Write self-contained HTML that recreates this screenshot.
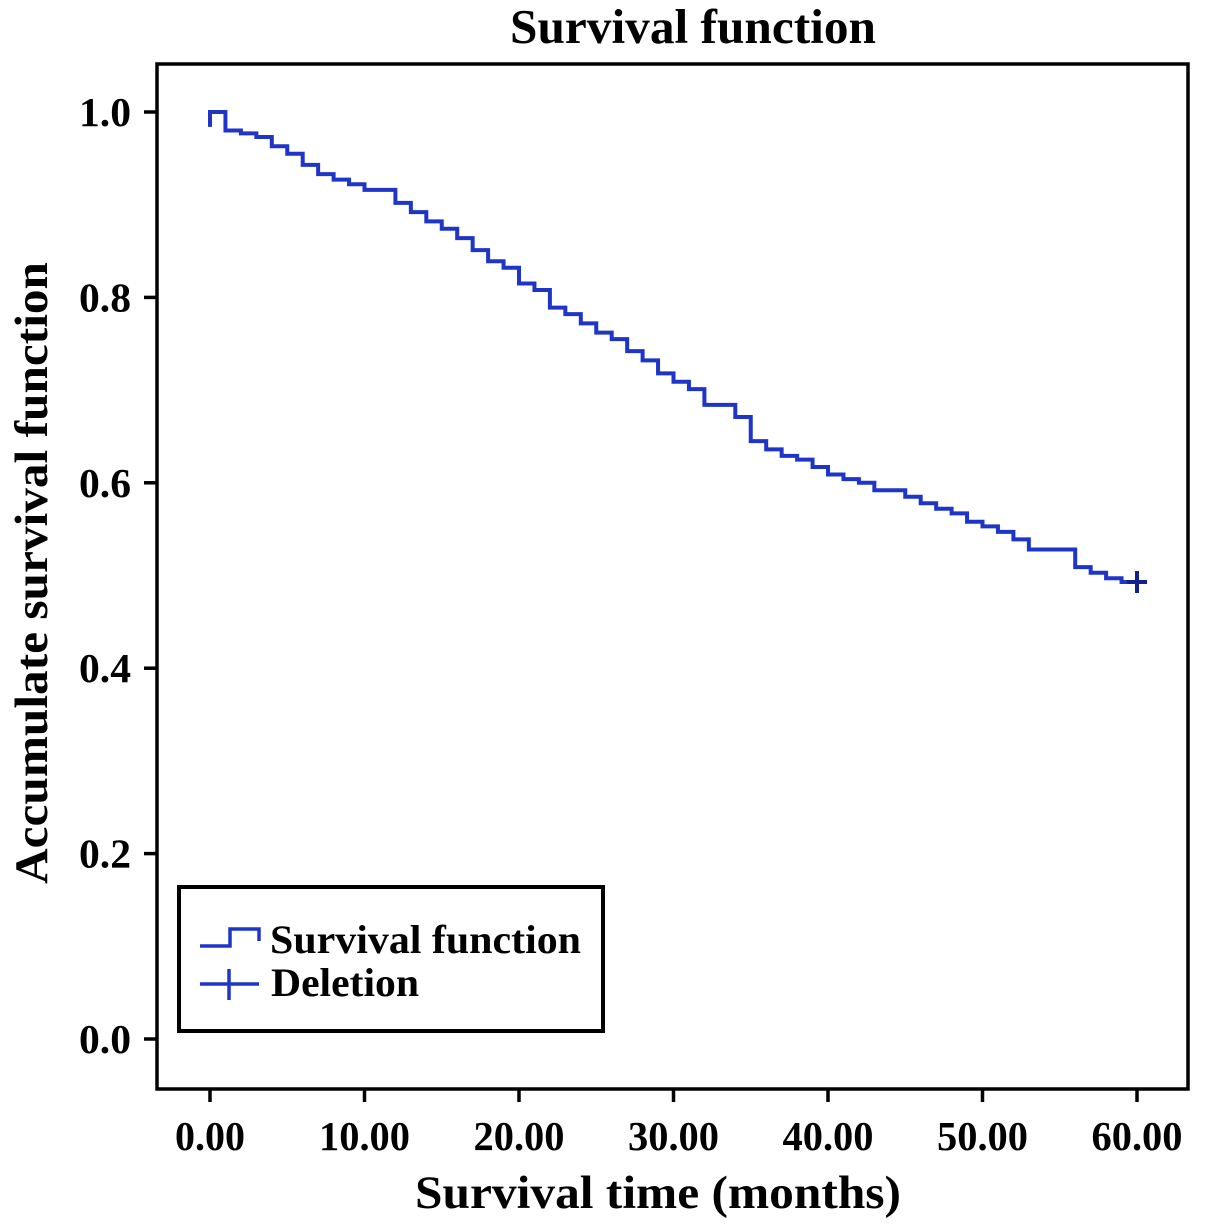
<!DOCTYPE html>
<html><head><meta charset="utf-8"><style>
html,body{margin:0;padding:0;background:#fff;}
svg{display:block;font-family:"Liberation Serif",serif;font-weight:bold;}
</style></head><body>
<svg width="1205" height="1228" viewBox="0 0 1205 1228">
<text x="693" y="43" font-size="49" text-anchor="middle" textLength="366" lengthAdjust="spacingAndGlyphs">Survival function</text>
<rect x="157" y="64" width="1031" height="1025" fill="none" stroke="#000" stroke-width="3.5"/>
<g id="yaxis"></g>
<g id="xaxis"></g>
<text transform="translate(47,573) rotate(-90)" font-size="47" text-anchor="middle" textLength="622" lengthAdjust="spacingAndGlyphs">Accumulate survival function</text>
<text x="658" y="1208" font-size="47" text-anchor="middle" textLength="486" lengthAdjust="spacingAndGlyphs">Survival time (months)</text>
<g id="series"></g>
<g>
<rect x="179" y="887" width="424" height="144" fill="#fff" stroke="#000" stroke-width="4"/>
<path d="M200 946 H230 V929 H259 V941" fill="none" stroke="#1f35c8" stroke-width="3.5"/>
<text x="270" y="953" font-size="40" textLength="311" lengthAdjust="spacingAndGlyphs">Survival function</text>
<path d="M200 984 H259 M229 969 V1000" fill="none" stroke="#1f35c8" stroke-width="3.5"/>
<text x="271" y="996" font-size="40" textLength="148" lengthAdjust="spacingAndGlyphs">Deletion</text>
</g>
</svg>
<script>
const yTicks=[0.0,0.2,0.4,0.6,0.8,1.0];
const yTickLabels=["0.0","0.2","0.4","0.6","0.8","1.0"];
const xTicks=[0,10,20,30,40,50,60];
const xTickLabels=["0.00","10.00","20.00","30.00","40.00","50.00","60.00"];
const stepTimes=[0,1,2,3,4,5,6,7,8,9,10,12,13,14,15,16,17,18,19,20,21,22,23,24,25,26,27,28,29,30,31,32,34,35,36,37,38,39,40,41,42,43,45,46,47,48,49,50,51,52,53,56,57,58,59];
const stepValues=[1.0,0.98,0.977,0.973,0.963,0.955,0.943,0.933,0.927,0.922,0.916,0.902,0.892,0.882,0.874,0.864,0.851,0.839,0.832,0.815,0.808,0.789,0.782,0.772,0.762,0.755,0.742,0.732,0.718,0.709,0.701,0.684,0.671,0.645,0.636,0.629,0.625,0.617,0.609,0.604,0.6,0.592,0.585,0.578,0.572,0.567,0.558,0.553,0.547,0.539,0.528,0.509,0.503,0.497,0.493];
const startValue=[0.984];
const endTime=[60];
const censorTimes=[60];
const censorValues=[0.493];

const NS="http://www.w3.org/2000/svg";
const xs=t=>210+(t-0)*(1137-210)/60;
const ys=v=>1039-v*(1039-112);
function mk(tag,attrs,parent){const e=document.createElementNS(NS,tag);for(const k in attrs)e.setAttribute(k,attrs[k]);parent.appendChild(e);return e;}
const ya=document.getElementById('yaxis'),xa=document.getElementById('xaxis'),se=document.getElementById('series');
yTicks.forEach((v,i)=>{
 const l=mk('line',{x1:144,x2:157,y1:ys(v),y2:ys(v),stroke:'#000','stroke-width':3.5},ya);
 
 
 const t=mk('text',{x:131,y:ys(v)+14,'font-size':41,'text-anchor':'end',textLength:52,lengthAdjust:'spacingAndGlyphs'},ya);
 t.textContent=yTickLabels[i];
 
 
});
xTicks.forEach((v,i)=>{
 const l=mk('line',{x1:xs(v),x2:xs(v),y1:1089,y2:1102,stroke:'#000','stroke-width':3.5},xa);
 
 
 const t=mk('text',{x:xs(v),y:1150,'font-size':41,'text-anchor':'middle',textLength:(xTickLabels[i].length>4?91:70),lengthAdjust:'spacingAndGlyphs'},xa);
 t.textContent=xTickLabels[i];
 
 
});
let d='M'+xs(stepTimes[0])+' '+ys(startValue[0])+' V'+ys(stepValues[0]);
for(let i=0;i<stepTimes.length;i++){
 const tEnd=i+1<stepTimes.length?stepTimes[i+1]:endTime[0];
 d+=' H'+xs(tEnd);
 if(i+1<stepTimes.length)d+=' V'+ys(stepValues[i+1]);
}
const p=mk('path',{d:d,fill:'none',stroke:'#1f35c8','stroke-width':4},se);


censorTimes.forEach((t,i)=>{
 const c=mk('path',{d:`M${xs(t)-10} ${ys(censorValues[i])} H${xs(t)+10} M${xs(t)} ${ys(censorValues[i])-11} V${ys(censorValues[i])+11}`,stroke:'#141e8c','stroke-width':4,fill:'none'},se);
 
 
});
</script>
</body></html>
